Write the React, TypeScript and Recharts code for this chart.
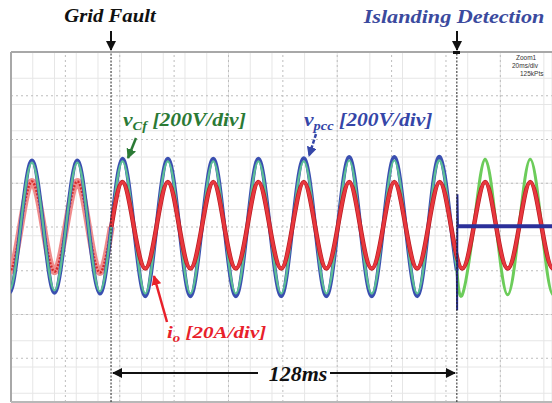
import React from "react";
import {
  LineChart,
  Line,
  XAxis,
  YAxis,
  CartesianGrid,
  ReferenceLine,
} from "recharts";

// time in ms (20 ms/div), values in scope divisions
const voltTimes = [-4.8, -0.6, 3.5, 7.7, 11.9, 16.0, 20.2, 24.4, 28.5, 32.7, 36.9, 41.0, 45.2, 49.4, 53.5, 57.7, 61.9, 66.0, 70.2, 74.4, 78.5, 82.7, 86.9, 91.0, 95.2, 99.4, 103.5, 107.7, 111.9, 116.0, 120.2, 124.4, 128.5, 132.7, 136.9, 141.0, 145.2, 149.4, 153.5, 157.7, 161.9, 164.0];
const vpccValues = [0, -1.5, 0, 1.52, 0, -1.5, 0, 1.52, 0, -1.52, 0, 1.56, 0, -1.58, 0, 1.56, 0, -1.58, 0, 1.56, 0, -1.58, 0, 1.56, 0, -1.58, 0, 1.57, 0, -1.58, 0, 1.6, 0, -1.58, 0, 1.6, 0, -1.58, 0, 1.6, 0, -1.0];
const vcfValues = [0, -1.45, 0, 1.47, 0, -1.45, 0, 1.47, 0, -1.47, 0, 1.5, 0, -1.52, 0, 1.5, 0, -1.52, 0, 1.5, 0, -1.52, 0, 1.5, 0, -1.52, 0, 1.5, 0, -1.52, 0, 1.52, 0, -1.52, 0, 1.52, 0, -1.52, 0, 1.52, 0, -0.98];

const islandTimes = [164.0, 166.0, 170.2, 174.4, 178.5, 182.7, 186.9, 191.0, 195.2, 199.4, 203.6];
const vcfIslandValues = [-0.98, -1.55, 0, 1.55, 0, -1.55, 0, 1.55, 0, -1.55, 0];

const ioPreTimes = [-4.8, -0.6, 3.5, 7.7, 11.9, 16.0, 20.2, 24.4, 28.5, 32.7, 36.9];
const ioPreValues = [0, -1.02, 0, 1.04, 0, -1.02, 0, 1.04, 0, -1.04, 0];
const ioPostTimes = [36.9, 41.0, 45.2, 49.4, 53.5, 57.7, 61.9, 66.0, 70.2, 74.4, 78.5, 82.7, 86.9, 91.0, 95.2, 99.4, 103.5, 107.7, 111.9, 116.0, 120.2, 124.4, 128.5, 132.7, 136.9, 141.0, 145.2, 149.4, 153.5, 157.7, 161.9, 166.0, 170.2, 174.4, 178.5, 182.7, 186.9, 191.0, 195.2, 199.4, 203.6];
const ioPostValues = [0, 1.03, 0, -0.95, 0, 1.03, 0, -0.95, 0, 1.03, 0, -0.95, 0, 1.03, 0, -0.95, 0, 1.03, 0, -0.95, 0, 1.03, 0, -0.95, 0, 1.03, 0, -0.95, 0, 1.03, 0, -0.95, 0, 1.03, 0, -0.95, 0, 1.03, 0, -0.95, 0];

const spikeTimes = [164.0, 164.1, 164.2, 164.4];
const spikeValues = [-1.0, -1.9, 0.75, 0.02];
const flatTimes = [164.4, 199];
const flatValues = [0.02, 0.02];

const faultTime = 36.8;
const islandTime = 164.0;
const majorX = [20, 40, 60, 80, 100, 120, 140, 160, 180];
const majorY = [-3, -2, -1, 0, 1, 2, 3];

const toRows = (ts: number[], vs: number[]) => ts.map((t, i) => ({ t, v: vs[i] }));

const minorX = Array.from({ length: 50 }, (_, i) => i * 4);
const minorY = Array.from({ length: 41 }, (_, i) => Math.round((-4 + i * 0.2) * 10) / 10);

const serif: React.CSSProperties = {
  fontFamily: '"Liberation Serif", "DejaVu Serif", serif',
  fontWeight: "bold",
  fontStyle: "italic",
};

const Label = ({ x, y, sx, anchor, children, size, color }: any) => (
  <g transform={`translate(${x},${y}) scale(${sx},1)`}>
    <text x={0} y={0} textAnchor={anchor || "start"} style={serif} fontSize={size} fill={color}>
      {children}
    </text>
  </g>
);

export default function App() {
  return (
    <div style={{ position: "absolute", left: 0, top: 0, width: 552, height: 403, background: "#fff" }}>
      <LineChart width={552} height={403} margin={{ top: 52, right: 0, bottom: 1, left: 11 }}>
        <CartesianGrid stroke="#e6e6e6" strokeWidth={1} />
        <XAxis type="number" dataKey="t" domain={[0, 199]} ticks={minorX} allowDataOverflow hide />
        <YAxis type="number" dataKey="v" domain={[-4, 4]} ticks={minorY} allowDataOverflow hide />
        {majorX.map((x) => (
          <ReferenceLine key={"x" + x} x={x} stroke="#bdbdbd" strokeDasharray="2 3" />
        ))}
        {majorY.map((y) => (
          <ReferenceLine key={"y" + y} y={y} stroke="#bdbdbd" strokeDasharray="2 3" />
        ))}
        <ReferenceLine x={0} stroke="#a8a8a8" strokeWidth={2} />
        <ReferenceLine y={4} stroke="#a8a8a8" strokeWidth={2} />
        <ReferenceLine y={-4} stroke="#b8b8b8" strokeWidth={2} />

        <Line data={toRows(ioPreTimes, ioPreValues)} dataKey="v" type="natural" stroke="#ef8c8c" strokeWidth={7} dot={false} isAnimationActive={false} />
        <Line data={toRows(ioPreTimes, ioPreValues)} dataKey="v" type="natural" stroke="#d42a2a" strokeWidth={2.5} strokeDasharray="2 1.5" dot={false} isAnimationActive={false} />

        <Line data={toRows(voltTimes, vpccValues)} dataKey="v" type="natural" stroke="#3a4fb0" strokeWidth={4} dot={false} isAnimationActive={false} />
        <Line data={toRows(voltTimes, vcfValues)} dataKey="v" type="natural" stroke="#5cbf96" strokeWidth={2.2} dot={false} isAnimationActive={false} />
        <Line data={toRows(islandTimes, vcfIslandValues)} dataKey="v" type="natural" stroke="#6ccc5a" strokeWidth={3} dot={false} isAnimationActive={false} />

        <Line data={toRows(ioPostTimes, ioPostValues)} dataKey="v" type="natural" stroke="#b81c22" strokeWidth={4.5} dot={false} isAnimationActive={false} />
        <Line data={toRows(ioPostTimes, ioPostValues)} dataKey="v" type="natural" stroke="#e8383e" strokeWidth={3} dot={false} isAnimationActive={false} />

        <Line data={toRows(spikeTimes, spikeValues)} dataKey="v" type="linear" stroke="#262c8c" strokeWidth={2} dot={false} isAnimationActive={false} />
        <Line data={toRows(flatTimes, flatValues)} dataKey="v" type="linear" stroke="#2b309a" strokeWidth={4} dot={false} isAnimationActive={false} />

        <ReferenceLine x={faultTime} stroke="#222" strokeDasharray="2 1.5" />
        <ReferenceLine x={islandTime} stroke="#222" strokeDasharray="2 1.5" />
      </LineChart>

      <svg width={552} height={403} style={{ position: "absolute", left: 0, top: 0, pointerEvents: "none" }}>
        <defs>
          <marker id="hk" viewBox="0 0 10 10" refX="9" refY="5" markerWidth="5" markerHeight="5" orient="auto-start-reverse">
            <path d="M0,0 L10,5 L0,10 z" fill="#111" />
          </marker>
          <marker id="hg" viewBox="0 0 10 10" refX="9" refY="5" markerWidth="4" markerHeight="4" orient="auto">
            <path d="M0,0 L10,5 L0,10 z" fill="#2b7a35" />
          </marker>
          <marker id="hb" viewBox="0 0 10 10" refX="9" refY="5" markerWidth="4" markerHeight="4" orient="auto">
            <path d="M0,0 L10,5 L0,10 z" fill="#3546a8" />
          </marker>
          <marker id="hr" viewBox="0 0 10 10" refX="9" refY="5" markerWidth="4" markerHeight="4" orient="auto">
            <path d="M0,0 L10,5 L0,10 z" fill="#e8202a" />
          </marker>
        </defs>

        <Label x={110} y={22} sx={1.09} anchor="middle" size={19} color="#111">Grid Fault</Label>
        <line x1={111} y1={31} x2={111} y2={50} stroke="#111" strokeWidth={2} markerEnd="url(#hk)" />

        <Label x={454} y={23} sx={1.17} anchor="middle" size={19} color="#3b4a9e">Islanding Detection</Label>
        <line x1={457} y1={31} x2={457} y2={50} stroke="#111" strokeWidth={2} markerEnd="url(#hk)" />
        <rect x={453} y={51} width={7} height={3} fill="#111" />

        <text x={516} y={60} fontFamily="Arial, sans-serif" fontSize={6.5} fill="#333">Zoom1</text>
        <text x={512} y={68} fontFamily="Arial, sans-serif" fontSize={6.5} fill="#333">20ms/div</text>
        <text x={520} y={76} fontFamily="Arial, sans-serif" fontSize={6.5} fill="#333">125kPts</text>

        <Label x={123} y={126} sx={1.2} size={18} color="#2b7a35">
          v<tspan dy={4} fontSize={12}>Cf</tspan><tspan dy={-4}> [200V/div]</tspan>
        </Label>
        <line x1={136} y1={138} x2={128} y2={158} stroke="#2b7a35" strokeWidth={2.5} markerEnd="url(#hg)" />

        <Label x={304} y={126} sx={1.2} size={18} color="#3546a8">
          v<tspan dy={4} fontSize={12}>pcc</tspan><tspan dy={-4}> [200V/div]</tspan>
        </Label>
        <line x1={316} y1={134} x2={309} y2={156} stroke="#3546a8" strokeWidth={2.5} strokeDasharray="4 2" markerEnd="url(#hb)" />

        <Label x={167} y={338} sx={1.24} size={17} color="#e8202a">
          i<tspan dy={4} fontSize={12}>o</tspan><tspan dy={-4}> [20A/div]</tspan>
        </Label>
        <line x1={167} y1={322} x2={154} y2={276} stroke="#e8202a" strokeWidth={2.5} markerEnd="url(#hr)" />

        <Label x={298} y={381} sx={1.1} anchor="middle" size={20} color="#111">128ms</Label>
        <line x1={258} y1={373} x2={113} y2={373} stroke="#111" strokeWidth={2} markerEnd="url(#hk)" />
        <line x1={330} y1={373} x2={455} y2={373} stroke="#111" strokeWidth={2} markerEnd="url(#hk)" />
      </svg>
    </div>
  );
}
